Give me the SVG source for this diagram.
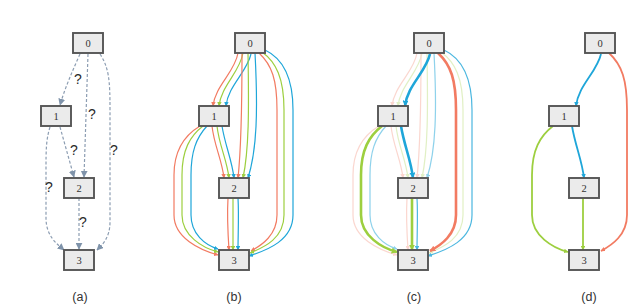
<svg xmlns="http://www.w3.org/2000/svg" width="644" height="305" viewBox="0 0 644 305">
<style>
.nd rect{fill:#ebebeb;stroke:#555;stroke-width:1.9}
.nd text{font-family:"Liberation Serif","DejaVu Serif",serif;font-size:10.5px;fill:#333;text-anchor:middle}
.q{font-family:"Liberation Sans",Arial,sans-serif;font-size:14px;fill:#2a2a2a;text-anchor:middle}
.cap{font-family:"Liberation Sans",Arial,sans-serif;font-size:12.5px;fill:#333;text-anchor:middle}
.da{fill:none;stroke:#8c9db2;stroke-width:1.2;stroke-dasharray:3 2;marker-end:url(#ag)}
.r,.g,.b{fill:none;stroke-width:1.2}
.r{stroke:#f27b62;marker-end:url(#ar)}
.g{stroke:#9dcf3f;marker-end:url(#agr)}
.b{stroke:#1fa6d9;marker-end:url(#ab)}
.t{stroke-width:2.6}
.r.t{marker-end:url(#arT)}
.g.t{marker-end:url(#agrT)}
.b.t{marker-end:url(#abT)}
</style>
<defs>
<marker id="ag" viewBox="0 0 10 10" refX="9" refY="5" markerWidth="7" markerHeight="7" markerUnits="userSpaceOnUse" orient="auto"><path d="M0,0 L10,5 L0,10z" fill="#7f93aa"/></marker>
<marker id="ar" viewBox="0 0 10 10" refX="9" refY="5" markerWidth="4.5" markerHeight="4.5" markerUnits="userSpaceOnUse" orient="auto"><path d="M0,0 L10,5 L0,10z" fill="#f27b62"/></marker>
<marker id="agr" viewBox="0 0 10 10" refX="9" refY="5" markerWidth="4.5" markerHeight="4.5" markerUnits="userSpaceOnUse" orient="auto"><path d="M0,0 L10,5 L0,10z" fill="#9dcf3f"/></marker>
<marker id="ab" viewBox="0 0 10 10" refX="9" refY="5" markerWidth="4.5" markerHeight="4.5" markerUnits="userSpaceOnUse" orient="auto"><path d="M0,0 L10,5 L0,10z" fill="#1fa6d9"/></marker>
<marker id="arT" viewBox="0 0 10 10" refX="9" refY="5" markerWidth="6" markerHeight="6" markerUnits="userSpaceOnUse" orient="auto"><path d="M0,0 L10,5 L0,10z" fill="#f27b62"/></marker>
<marker id="agrT" viewBox="0 0 10 10" refX="9" refY="5" markerWidth="6" markerHeight="6" markerUnits="userSpaceOnUse" orient="auto"><path d="M0,0 L10,5 L0,10z" fill="#9dcf3f"/></marker>
<marker id="abT" viewBox="0 0 10 10" refX="9" refY="5" markerWidth="6" markerHeight="6" markerUnits="userSpaceOnUse" orient="auto"><path d="M0,0 L10,5 L0,10z" fill="#1fa6d9"/></marker>
</defs>
<rect width="644" height="305" fill="#fff"/>

<g id="connectors">
 <g id="edges-a">
  <path class="da" d="M80,54 C72,72 65,88 60,105"/>
  <path class="da" d="M88,54 L84,177"/>
  <path class="da" d="M100,54 C109,68 110,80 110,110 L110,222 C110,238 102,245 97,250"/>
  <path class="da" d="M60,127 L74,177"/>
  <path class="da" d="M50,127 C46,140 46,150 46,170 L46,218 C46,236 57,244 64,250"/>
  <path class="da" d="M79,198 L79,249"/>
 </g>
 <g id="edges-b">
  <path class="r" d="M238,53 C235,72 215,86 213,106"/>
  <path class="g" d="M243,53 C240,72 221,86 219,106"/>
  <path class="b" d="M251,54 C247,72 228,86 226,106"/>
  <path class="r" d="M242,53 C242,110 241,150 238,178"/>
  <path class="g" d="M248,53 C249,110 249,150 243,178"/>
  <path class="b" d="M255,53 C258,110 257,150 248,178"/>
  <path class="r" d="M259,53 C272,65 277,80 277,110 L277,215 C277,235 262,245 251,251"/>
  <path class="g" d="M262,52 C276,62 284,78 284,110 L284,215 C284,238 265,247 250,253"/>
  <path class="b" d="M265,50 C282,58 293,75 293,110 L293,215 C293,240 268,250 249,256"/>
  <path class="r" d="M212,126 C214,145 222,160 224,178"/>
  <path class="g" d="M217,126 C219,145 227,160 229,178"/>
  <path class="b" d="M222,126 C225,145 232,160 234,178"/>
  <path class="r" d="M200,126 C185,135 174,150 174,175 L174,215 C174,238 200,250 218,255"/>
  <path class="g" d="M203,126 C190,136 182,150 182,175 L182,215 C182,236 203,248 218,252"/>
  <path class="b" d="M207,126 C196,138 191,152 191,175 L191,215 C191,234 205,245 218,249"/>
  <path class="r" d="M228,198 C227,215 228,235 229,250"/>
  <path class="g" d="M233,198 L233,250"/>
  <path class="b" d="M238,198 C239,215 238,235 238,250"/>
 </g>
 <g id="edges-c" transform="translate(179,0)">
  <g opacity="0.3">
   <path class="r" d="M238,53 C235,72 215,86 213,106"/>
   <path class="g" d="M243,53 C240,72 221,86 219,106"/>
   <path class="r" d="M242,53 C242,110 241,150 238,178"/>
   <path class="g" d="M248,53 C249,110 249,150 243,178"/>
   <path class="g" d="M262,52 C276,62 284,78 284,110 L284,215 C284,238 265,247 250,253"/>
   <path class="r" d="M212,126 C214,145 222,160 224,178"/>
   <path class="g" d="M217,126 C219,145 227,160 229,178"/>
   <path class="r" d="M200,126 C185,135 174,150 174,175 L174,215 C174,238 200,250 218,255"/>
   <path class="r" d="M228,198 C227,215 228,235 229,250"/>
  </g>
  <g opacity="0.5">
   <path class="b" d="M255,53 C258,110 257,150 248,178"/>
   <path class="b" d="M207,126 C196,138 191,152 191,175 L191,215 C191,234 205,245 218,249"/>
  </g>
  <g opacity="0.8">
   <path class="b" d="M265,50 C282,58 293,75 293,110 L293,215 C293,240 268,250 249,256"/>
   <path class="b" d="M238,198 C239,215 238,235 238,250"/>
  </g>
  <path class="b t" d="M251,54 C247,72 228,86 226,106"/>
  <path class="r t" d="M259,53 C272,65 277,80 277,110 L277,215 C277,235 262,245 251,251"/>
  <path class="b t" d="M222,126 C225,145 232,160 234,178"/>
  <path class="g t" d="M203,126 C190,136 182,150 182,175 L182,215 C182,236 203,248 218,252"/>
  <path class="g t" d="M233,198 L233,250"/>
 </g>
 <g id="edges-d" transform="translate(350,0)">
  <path class="b" style="stroke-width:1.8" d="M251,54 C247,72 228,86 226,106"/>
  <path class="r" style="stroke-width:1.8" d="M259,53 C272,65 277,80 277,110 L277,215 C277,235 262,245 251,251"/>
  <path class="b" style="stroke-width:1.8" d="M222,126 C225,145 232,160 234,178"/>
  <path class="g" style="stroke-width:1.8" d="M203,126 C190,136 182,150 182,175 L182,215 C182,236 203,248 218,252"/>
  <path class="g" style="stroke-width:1.8" d="M233,198 L233,250"/>
 </g>
</g>

<g id="qlabels">
 <text class="q" x="78" y="84">?</text>
 <text class="q" x="92" y="119">?</text>
 <text class="q" x="74" y="155">?</text>
 <text class="q" x="114" y="155">?</text>
 <text class="q" x="49" y="192">?</text>
 <text class="q" x="83" y="227">?</text>
</g>

<g id="a0" class="nd"><rect x="73" y="33" width="30" height="20"/><text x="88" y="47">0</text></g>
<g id="a1" class="nd"><rect x="41" y="106" width="30" height="20"/><text x="56" y="120">1</text></g>
<g id="a2" class="nd"><rect x="64" y="178" width="30" height="20"/><text x="79" y="192">2</text></g>
<g id="a3" class="nd"><rect x="64" y="250" width="30" height="20"/><text x="79" y="264">3</text></g>

<g id="b0" class="nd"><rect x="235" y="33" width="30" height="20"/><text x="250" y="47">0</text></g>
<g id="b1" class="nd"><rect x="199" y="106" width="30" height="20"/><text x="214" y="120">1</text></g>
<g id="b2" class="nd"><rect x="219" y="178" width="30" height="20"/><text x="234" y="192">2</text></g>
<g id="b3" class="nd"><rect x="219" y="250" width="30" height="20"/><text x="234" y="264">3</text></g>

<g id="c0" class="nd"><rect x="414" y="33" width="30" height="20"/><text x="429" y="47">0</text></g>
<g id="c1" class="nd"><rect x="378" y="106" width="30" height="20"/><text x="393" y="120">1</text></g>
<g id="c2" class="nd"><rect x="398" y="178" width="30" height="20"/><text x="413" y="192">2</text></g>
<g id="c3" class="nd"><rect x="398" y="250" width="30" height="20"/><text x="413" y="264">3</text></g>

<g id="d0" class="nd"><rect x="585" y="33" width="30" height="20"/><text x="600" y="47">0</text></g>
<g id="d1" class="nd"><rect x="549" y="106" width="30" height="20"/><text x="564" y="120">1</text></g>
<g id="d2" class="nd"><rect x="569" y="178" width="30" height="20"/><text x="584" y="192">2</text></g>
<g id="d3" class="nd"><rect x="569" y="250" width="30" height="20"/><text x="584" y="264">3</text></g>

<g id="captions">
 <text class="cap" x="80" y="301">(a)</text>
 <text class="cap" x="234" y="301">(b)</text>
 <text class="cap" x="414" y="301">(c)</text>
 <text class="cap" x="589" y="301">(d)</text>
</g>
</svg>
